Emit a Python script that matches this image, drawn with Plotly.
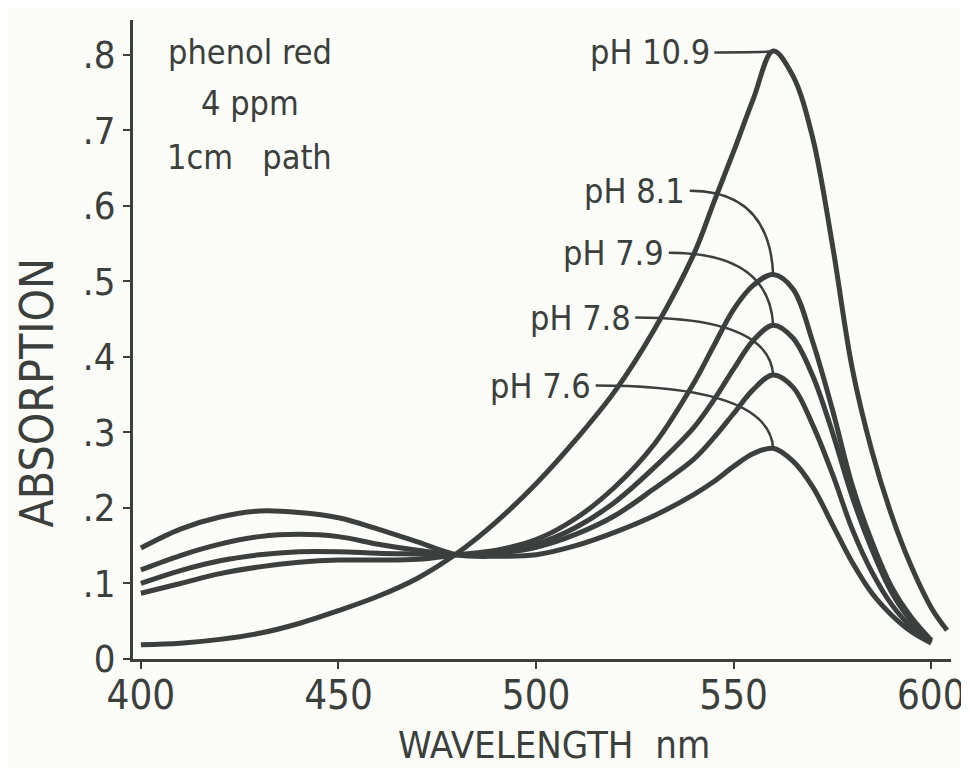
import plotly.graph_objects as go

# ---------------- data ----------------
wavelength = [400, 410, 420, 430, 440, 450, 460, 470, 480, 490, 500, 510, 520,
              530, 540, 545, 550, 555, 560, 565, 570, 575, 580, 585, 590, 595, 600]

abs_ph109 = [0.019, 0.021, 0.026, 0.034, 0.047, 0.064, 0.083, 0.107, 0.140, 0.182,
             0.232, 0.290, 0.355, 0.437, 0.537, 0.605, 0.672, 0.742, 0.805, 0.772,
             0.690, 0.548, 0.385, 0.275, 0.190, 0.122, 0.068]
wl_ph109_tail = [604]
abs_ph109_tail = [0.038]

abs_ph81 = [0.087, 0.100, 0.113, 0.122, 0.128, 0.131, 0.131, 0.132, 0.138, 0.144,
            0.158, 0.186, 0.228, 0.285, 0.366, 0.415, 0.463, 0.495, 0.509, 0.490,
            0.420, 0.330, 0.230, 0.155, 0.095, 0.055, 0.025]

abs_ph79 = [0.100, 0.117, 0.130, 0.138, 0.142, 0.142, 0.140, 0.139, 0.138, 0.142,
            0.152, 0.174, 0.208, 0.254, 0.307, 0.343, 0.384, 0.422, 0.442, 0.425,
            0.375, 0.300, 0.215, 0.145, 0.088, 0.050, 0.024]

abs_ph78 = [0.118, 0.137, 0.152, 0.162, 0.165, 0.162, 0.152, 0.144, 0.138, 0.140,
            0.148, 0.165, 0.190, 0.226, 0.265, 0.293, 0.325, 0.357, 0.376, 0.360,
            0.310, 0.245, 0.172, 0.115, 0.072, 0.042, 0.022]

abs_ph76 = [0.147, 0.172, 0.188, 0.196, 0.194, 0.187, 0.172, 0.155, 0.138, 0.136,
            0.138, 0.150, 0.168, 0.190, 0.218, 0.235, 0.255, 0.272, 0.279, 0.262,
            0.228, 0.178, 0.128, 0.087, 0.058, 0.036, 0.021]

series_labels = ["pH 10.9", "pH 8.1", "pH 7.9", "pH 7.8", "pH 7.6"]

y_tick_vals = [0, 0.1, 0.2, 0.3, 0.4, 0.5, 0.6, 0.7, 0.8]
y_tick_text = ["0", ".1", ".2", ".3", ".4", ".5", ".6", ".7", ".8"]
x_tick_vals = [400, 450, 500, 550, 600]
x_tick_text = ["400", "450", "500", "550", "600"]

info_lines = ["phenol red", "4 ppm", "1cm   path"]

# ---------------- styling ----------------
INK = "#3b403d"
FONT = "DejaVu Sans Condensed, Liberation Sans Narrow, Arial Narrow, sans-serif"

curves = [
    (wavelength + wl_ph109_tail, abs_ph109 + abs_ph109_tail),
    (wavelength, abs_ph81),
    (wavelength, abs_ph79),
    (wavelength, abs_ph78),
    (wavelength, abs_ph76),
]

fig = go.Figure()
for (xs, ys), name in zip(curves, series_labels):
    fig.add_trace(go.Scatter(
        x=xs, y=ys, mode="lines", name=name,
        line=dict(color=INK, width=5, shape="spline", smoothing=1.0),
        hoverinfo="x+y+name", showlegend=False,
    ))

# label anchor positions (layout choices, data units)
label_pos = [(544.5, 0.803), (538.3, 0.620), (533.0, 0.538), (524.5, 0.452), (514.5, 0.362)]

annotations = []
shapes = []
for (xs, ys), name, (lx, ly) in zip(curves, series_labels, label_pos):
    i_peak = max(range(len(ys)), key=lambda i: ys[i])
    px, py = xs[i_peak], ys[i_peak]
    annotations.append(dict(
        x=lx, y=ly, xref="x", yref="y", text=name, showarrow=False,
        xanchor="right", yanchor="middle",
        font=dict(family=FONT, size=34, color=INK),
    ))
    sx = lx + 0.6
    cx, cy = px - 1.0, ly
    shapes.append(dict(
        type="path", xref="x", yref="y",
        path=f"M {sx},{ly} Q {cx},{cy} {px},{py}",
        line=dict(color=INK, width=2.5),
    ))

info_y = [0.803, 0.736, 0.664]
for txt, yy in zip(info_lines, info_y):
    annotations.append(dict(
        x=427.5, y=yy, xref="x", yref="y", text=txt, showarrow=False,
        xanchor="center", yanchor="middle",
        font=dict(family=FONT, size=34, color=INK),
    ))

annotations.append(dict(
    x=0.515, y=-0.134, xref="paper", yref="paper", text="WAVELENGTH  nm",
    showarrow=False, xanchor="center", yanchor="middle",
    font=dict(family=FONT, size=38, color=INK),
))
annotations.append(dict(
    x=-0.117, y=0.416, xref="paper", yref="paper", text="ABSORPTION",
    showarrow=False, xanchor="center", yanchor="middle", textangle=-90,
    font=dict(family=FONT, size=46, color=INK),
))

fig.update_layout(
    template="none",
    width=969, height=768,
    margin=dict(l=125, r=26, t=12, b=117, autoexpand=False),
    paper_bgcolor="#fcfcf9", plot_bgcolor="#fcfcf9",
    annotations=annotations, shapes=shapes,
    xaxis=dict(
        range=[398, 605], showgrid=False, zeroline=False, automargin=False,
        showline=True, linewidth=3, linecolor=INK, mirror=False,
        ticks="outside", ticklen=7, tickwidth=2, tickcolor=INK,
        tickvals=x_tick_vals, ticktext=x_tick_text,
        tickfont=dict(family=FONT, size=40, color=INK),
        ticklabeloverflow="allow", ticklabelstandoff=-8,
    ),
    yaxis=dict(
        range=[0, 0.846], showgrid=False, zeroline=False, automargin=False,
        showline=True, linewidth=3, linecolor=INK, mirror=False,
        ticks="outside", ticklen=7, tickwidth=2, tickcolor=INK,
        tickvals=y_tick_vals, ticktext=y_tick_text,
        tickfont=dict(family=FONT, size=38, color=INK),
    ),
)

fig.write_html("out.html")
